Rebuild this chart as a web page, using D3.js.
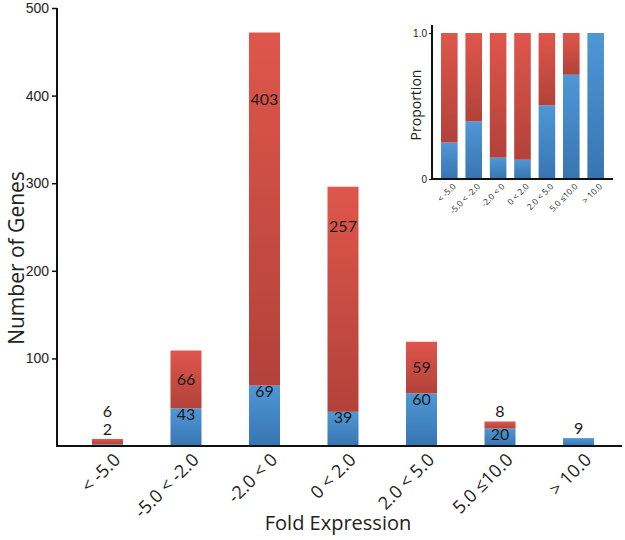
<!DOCTYPE html>
<html>
<head>
<meta charset="UTF-8">
<title>Fold Expression</title>
<script src="https://d3js.org/d3.v7.min.js"></script>
<style>
body { margin: 0; background: #fff; }
svg { display: block; font-family: "Open Sans", "Noto Sans", sans-serif; }
.val { font-family: Lato, "Open Sans", sans-serif; font-size: 16px; fill: #1a1a1a; }
.axis path, .axis line { stroke: #111; }
.axis text { fill: #222; }
</style>
</head>
<body>
<div id="chart"></div>
<script>
// categories and counts (blue = lower segment, red = upper segment)
var categories = ["< -5.0", "-5.0 < -2.0", "-2.0 < 0", "0 < 2.0", "2.0 < 5.0", "5.0 \u226410.0", "> 10.0"];
var blueCounts = [2, 43, 69, 39, 60, 20, 9];
var redCounts  = [6, 66, 403, 257, 59, 8, 0];
var yTicks = [100, 200, 300, 400, 500];
var insetTicks = [0, 1];

var width = 625, height = 540;

var svg = d3.select("#chart").append("svg")
  .attr("width", width)
  .attr("height", height);

var defs = svg.append("defs");
function grad(id, top, bottom) {
  var g = defs.append("linearGradient").attr("id", id)
    .attr("x1", 0).attr("y1", 0).attr("x2", 0).attr("y2", 1);
  g.append("stop").attr("offset", "0%").attr("stop-color", top);
  g.append("stop").attr("offset", "100%").attr("stop-color", bottom);
}
grad("blueGrad", "#4f97d6", "#3775b2");
grad("redGrad", "#df564b", "#b2423a");

var data = categories.map(function(c, i) {
  return { cat: c, blue: blueCounts[i], red: redCounts[i] };
});

// ---------- main chart ----------
var x = d3.scaleBand()
  .domain(categories)
  .range([59, 627])
  .paddingInner(0.605)
  .paddingOuter(0.42);

var y = d3.scaleLinear()
  .domain([0, 500])
  .range([446, 8]);

var bars = svg.append("g").selectAll("g")
  .data(data)
  .enter().append("g");

bars.append("rect")
  .attr("x", function(d) { return x(d.cat); })
  .attr("width", x.bandwidth())
  .attr("y", function(d) { return y(d.blue); })
  .attr("height", function(d) { return y(0) - y(d.blue); })
  .attr("fill", "url(#blueGrad)");

bars.filter(function(d) { return d.red > 0; }).append("rect")
  .attr("x", function(d) { return x(d.cat); })
  .attr("width", x.bandwidth())
  .attr("y", function(d) { return y(d.blue + d.red); })
  .attr("height", function(d) { return y(d.blue) - y(d.blue + d.red); })
  .attr("fill", "url(#redGrad)");

// value labels: inside the segment, or stacked above the bar when too thin
bars.each(function(d) {
  var g = d3.select(this);
  var cx = x(d.cat) + x.bandwidth() / 2;
  var top = y(d.blue + d.red);
  var above = top - 10;
  var segs = [[d.blue, y(0), y(d.blue)], [d.red, y(d.blue), top]];
  segs.forEach(function(s) {
    if (s[0] <= 0) return;
    var ly;
    if (s[1] - s[2] < 12) {
      ly = above;
      above -= 18;
    } else {
      ly = Math.min((s[1] + s[2]) / 2, y(s[0]) + 6);
    }
    g.append("text")
      .attr("class", "val")
      .attr("x", cx)
      .attr("y", ly)
      .attr("dy", "0.35em")
      .attr("text-anchor", "middle")
      .text(s[0]);
  });
});

// y axis
var yAxis = svg.append("g")
  .attr("class", "axis")
  .attr("transform", "translate(57,0)")
  .call(d3.axisLeft(y).tickValues(yTicks).tickSize(5).tickSizeOuter(0));
yAxis.select(".domain").attr("stroke-width", 2).attr("d", "M0," + y(500) + "V" + y(0));
yAxis.selectAll(".tick line").attr("stroke-width", 1.5);
yAxis.selectAll(".tick text").attr("font-size", 14).attr("x", -8);

// x axis
svg.append("line")
  .attr("x1", 56).attr("x2", 622)
  .attr("y1", y(0)).attr("y2", y(0))
  .attr("stroke", "#111").attr("stroke-width", 2);

svg.append("g").selectAll("text")
  .data(categories)
  .enter().append("text")
  .attr("text-anchor", "end")
  .attr("font-size", 18)
  .attr("fill", "#222")
  .attr("transform", function(d) {
    return "translate(" + (x(d) + x.bandwidth() / 2 + 14) + "," + (y(0) + 15) + ") rotate(-45)";
  })
  .text(function(d) { return d; });

svg.append("text")
  .attr("x", 338).attr("y", 530)
  .attr("text-anchor", "middle")
  .attr("font-size", 20)
  .attr("fill", "#222")
  .text("Fold Expression");

svg.append("text")
  .attr("transform", "translate(24,258) rotate(-90)")
  .attr("text-anchor", "middle")
  .attr("font-size", 21)
  .attr("fill", "#222")
  .text("Number of Genes");

// ---------- inset: proportion ----------
var xi = d3.scaleBand()
  .domain(categories)
  .range([432, 613])
  .paddingInner(0.32)
  .paddingOuter(0.37);

var yi = d3.scaleLinear()
  .domain([0, 1])
  .range([179, 33]);

var ib = svg.append("g").selectAll("g")
  .data(data)
  .enter().append("g");

ib.append("rect")
  .attr("x", function(d) { return xi(d.cat); })
  .attr("width", xi.bandwidth())
  .attr("y", function(d) { return yi(d.blue / (d.blue + d.red)); })
  .attr("height", function(d) { return yi(0) - yi(d.blue / (d.blue + d.red)); })
  .attr("fill", "url(#blueGrad)");

ib.filter(function(d) { return d.red > 0; }).append("rect")
  .attr("x", function(d) { return xi(d.cat); })
  .attr("width", xi.bandwidth())
  .attr("y", yi(1))
  .attr("height", function(d) { return yi(d.blue / (d.blue + d.red)) - yi(1); })
  .attr("fill", "url(#redGrad)");

var yiAxis = svg.append("g")
  .attr("class", "axis")
  .attr("transform", "translate(432,0)")
  .call(d3.axisLeft(yi).tickValues(insetTicks).tickSize(3).tickSizeOuter(0)
    .tickFormat(function(d) { return d === 1 ? "1.0" : "0"; }));
yiAxis.select(".domain").attr("stroke-width", 2).attr("d", "M0,25V" + yi(0));
yiAxis.selectAll(".tick text").attr("font-size", 10).attr("x", -5);

svg.append("line")
  .attr("x1", 431).attr("x2", 613)
  .attr("y1", yi(0)).attr("y2", yi(0))
  .attr("stroke", "#111").attr("stroke-width", 2);

svg.append("g").selectAll("text")
  .data(categories)
  .enter().append("text")
  .attr("text-anchor", "end")
  .attr("font-size", 8.5)
  .attr("fill", "#222")
  .attr("transform", function(d) {
    return "translate(" + (xi(d) + xi.bandwidth() / 2 + 7) + "," + (yi(0) + 8) + ") rotate(-45)";
  })
  .text(function(d) { return d; });

svg.append("text")
  .attr("transform", "translate(421,105) rotate(-90)")
  .attr("text-anchor", "middle")
  .attr("font-size", 14)
  .attr("fill", "#222")
  .text("Proportion");
</script>
</body>
</html>
